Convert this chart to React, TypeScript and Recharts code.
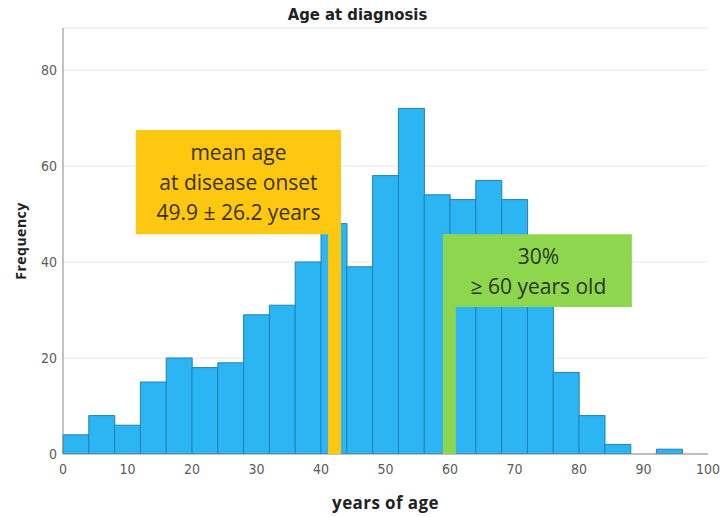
import React from 'react';
import { ComposedChart, Bar, XAxis, YAxis, CartesianGrid, ReferenceArea } from 'recharts';

// histogram bins (start of each 4-year bin) and counts
const binStarts = [0, 4, 8, 12, 16, 20, 24, 28, 32, 36, 40, 44, 48, 52, 56, 60, 64, 68, 72, 76, 80, 84, 88, 92];
const frequencies = [4, 8, 6, 15, 20, 18, 19, 29, 31, 40, 48, 39, 58, 72, 54, 53, 57, 53, 35, 17, 8, 2, 0, 1];
const binWidth = 4;

const xTicks = [0, 10, 20, 30, 40, 50, 60, 70, 80, 90, 100];
const yTicks = [0, 20, 40, 60, 80];

const meanLines = ['mean age', 'at disease onset', '49.9 \u00b1 26.2 years'];
const olderLines = ['30%', '\u2265 60 years old'];

const data = binStarts.map((s, i) => ({ mid: s + binWidth / 2, freq: frequencies[i] }));

const W = 723;
const H = 517;
const xDomain: [number, number] = [0, 100];
const yDomain: [number, number] = [0, 88.75];

const tickFont = { fontFamily: 'Liberation Sans Narrow, DejaVu Sans Condensed, sans-serif', fontSize: 14, fill: '#5a5a5a' };

function boxText(lines: string[], color: string) {
  return (props: any) => {
    const vb = props.viewBox || {};
    const cx = vb.x + vb.width / 2;
    const cy = vb.y + vb.height / 2;
    const start = cy - ((lines.length - 1) * 30) / 2;
    return (
      <g>
        {lines.map((l, i) => (
          <text
            key={i}
            x={cx}
            y={start + i * 30}
            textAnchor="middle"
            dominantBaseline="central"
            fontFamily="Open Sans, sans-serif"
            fontSize={21}
            fill={color}
          >
            {l}
          </text>
        ))}
      </g>
    );
  };
}

export default function App() {
  return (
    <div style={{ position: 'absolute', left: 0, top: 0, width: W, height: H, background: '#fff' }}>
      <div
        style={{
          position: 'absolute',
          top: 5,
          left: 0,
          width: W - 8,
          textAlign: 'center',
          fontFamily: 'Liberation Sans Narrow, DejaVu Sans Condensed, sans-serif',
          fontWeight: 'bold',
          fontSize: 16.5,
          color: '#222',
        }}
      >
        Age at diagnosis
      </div>
      <div style={{ position: 'absolute', left: 0, top: 0 }}>
        <ComposedChart
          width={W}
          height={H}
          data={data}
          margin={{ top: 28, right: 15, bottom: 33, left: 33 }}
          barCategoryGap={0}
          barGap={0}
        >
          <CartesianGrid horizontal vertical={false} stroke="#e6e6e6" />
          <XAxis
            type="number"
            dataKey="mid"
            domain={xDomain}
            ticks={xTicks}
            interval={0}
            tickLine={false}
            tickMargin={4}
            axisLine={{ stroke: '#888' }}
            tick={tickFont}
            height={30}
            label={{
              value: 'years of age',
              position: 'insideBottom',
              offset: -25,
              style: { fontFamily: 'Open Sans, sans-serif', fontWeight: 'bold', fontSize: 17, fill: '#222', letterSpacing: 0.4 },
            }}
          />
          <YAxis
            domain={yDomain}
            ticks={yTicks}
            allowDataOverflow
            tickLine={false}
            tickMargin={0}
            axisLine={{ stroke: '#888' }}
            tick={tickFont}
            width={30}
            label={{
              value: 'Frequency',
              angle: -90,
              position: 'insideLeft',
              offset: -12,
              style: { textAnchor: 'middle', fontFamily: 'Open Sans, sans-serif', fontWeight: 'bold', fontSize: 14, fill: '#222', letterSpacing: 0.5 },
            }}
          />
          <Bar dataKey="freq" fill="#2bb5f2" stroke="#2280b5" strokeWidth={1} isAnimationActive={false} />
        </ComposedChart>
      </div>
      {/* annotation layer drawn over the bars */}
      <div style={{ position: 'absolute', left: 0, top: 0 }}>
        <ComposedChart width={W} height={H} data={data} margin={{ top: 28, right: 15, bottom: 63, left: 63 }}>
          <XAxis type="number" dataKey="mid" domain={xDomain} hide />
          <YAxis domain={yDomain} allowDataOverflow hide />
          <ReferenceArea x1={41.1} x2={43.1} y1={0} y2={67.5} fill="#fdc80f" fillOpacity={1} stroke="none" />
          <ReferenceArea
            x1={11.3}
            x2={43.1}
            y1={45.8}
            y2={67.5}
            fill="#fdc80f"
            fillOpacity={1}
            stroke="none"
            label={{ content: boxText(meanLines, '#3b3116') }}
          />
          <ReferenceArea x1={58.9} x2={60.9} y1={0} y2={45.8} fill="#8fd64f" fillOpacity={1} stroke="none" />
          <ReferenceArea
            x1={59.2}
            x2={88.2}
            y1={30.6}
            y2={45.8}
            fill="#8fd64f"
            fillOpacity={1}
            stroke="none"
            label={{ content: boxText(olderLines, '#27381a') }}
          />
        </ComposedChart>
      </div>
    </div>
  );
}
